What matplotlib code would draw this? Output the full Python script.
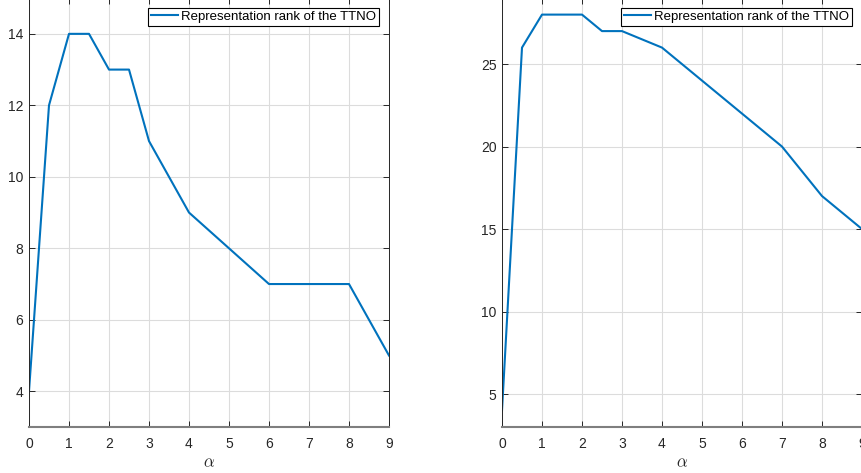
import numpy as np
from matplotlib import pyplot as plt

plt.rcParams['font.family'] = ['Liberation Sans', 'DejaVu Sans']
plt.rcParams['mathtext.fontset'] = 'cm'

# rank of the TTNO for each alpha, two test cases
alpha_left = [0, 0.5, 1, 1.5, 2, 2.5, 3, 4, 5, 6, 7, 8, 9]
rank_left = [4, 12, 14, 14, 13, 13, 11, 9, 8, 7, 7, 7, 5]

alpha_right = [0, 0.5, 1, 1.5, 2, 2.5, 3, 4, 5, 6, 7, 8, 9]
rank_right = [4, 26, 28, 28, 28, 27, 27, 26, 24, 22, 20, 17, 15]

label = 'Representation rank of the TTNO'
blue = '#0072BD'
dark = '#262626'

fig = plt.figure(figsize=(8.62, 4.73), dpi=100)
W, H = 862.0, 473.0


def draw(rect, xs, ys, ylim, yticks):
    ax = fig.add_axes(rect)
    ax.plot(xs, ys, color=blue, linewidth=1.5, label=label)
    ax.set_xlim(0, 9)
    ax.set_ylim(*ylim)
    ax.set_xticks(np.arange(0, 10, 1))
    ax.set_yticks(yticks)
    ax.grid(True, color='#dcdcdc', linewidth=0.8)
    ax.set_axisbelow(True)
    ax.tick_params(direction='in', top=True, right=True, length=4,
                   width=0.7, colors=dark, labelsize=10)
    ax.tick_params(axis='x', pad=7)
    ax.tick_params(axis='y', pad=4)
    for s in ax.spines.values():
        s.set_color(dark)
        s.set_linewidth(0.7)
    ax.spines['bottom'].set_color('#7f7f7f')
    ax.spines['bottom'].set_linewidth(1.5)
    ax.set_xlabel(r'$\alpha$', fontsize=12, color=dark, labelpad=3)
    leg = ax.legend(loc='upper right', fontsize=9.5, fancybox=False,
                    framealpha=1, edgecolor='black', borderpad=0.2,
                    handlelength=2.0, handletextpad=0.3,
                    borderaxespad=0.75)
    leg.get_frame().set_linewidth(0.8)
    return ax


draw([29 / W, (H - 427) / H, 360 / W, 427 / H + 0.004],
     alpha_left, rank_left, (3, 15), [4, 6, 8, 10, 12, 14])
draw([502 / W, (H - 427) / H, 360 / W, 427 / H + 0.004],
     alpha_right, rank_right, (3, 29), [5, 10, 15, 20, 25])

fig.savefig('out.png', dpi=100)
